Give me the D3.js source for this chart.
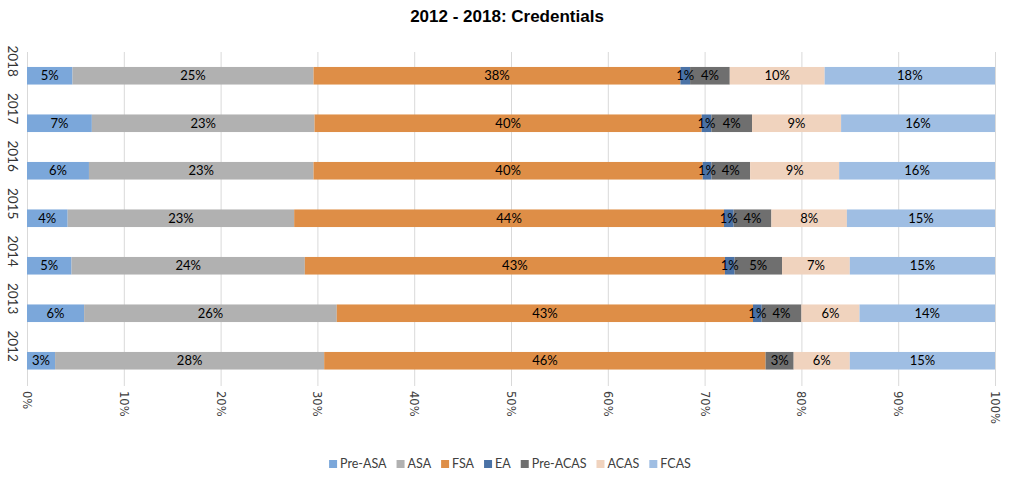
<!DOCTYPE html>
<html><head><meta charset="utf-8">
<script src="https://cdn.jsdelivr.net/npm/d3@7"></script>
<style>body{margin:0;background:#fff}svg{display:block}</style>
</head><body><svg id="c" width="1013" height="486"></svg>
<script>
const years = ["2018","2017","2016","2015","2014","2013","2012"];
const seriesNames = ["Pre-ASA","ASA","FSA","EA","Pre-ACAS","ACAS","FCAS"];
const preASA  = [4.7, 6.7, 6.4, 4.2, 4.6, 5.9, 2.9];
const asa     = [24.9,23.0,23.2,23.4,24.1,26.1,27.8];
const fsa     = [37.9,40.0,40.2,44.4,43.4,43.0,45.6];
const ea      = [1.0, 1.0, 0.9, 1.0, 1.0, 0.9, 0.0];
const preACAS = [4.1, 4.2, 4.0, 3.9, 4.9, 4.1, 2.9];
const acas    = [9.8, 9.2, 9.2, 7.8, 7.0, 6.0, 5.8];
const fcas    = [17.6,15.9,16.1,15.3,15.0,14.0,15.0];
const xTicks  = [0,10,20,30,40,50,60,70,80,90,100];
const colors  = ["#7BA7DA","#B1B1B1","#DE8E47","#4A72A6","#6F6F6F","#F0D3BE","#9FBEE3"];

const seriesVals = [preASA, asa, fsa, ea, preACAS, acas, fcas];
const rows = years.map((y,i)=>{const o={year:y}; seriesNames.forEach((s,k)=>o[s]=seriesVals[k][i]); return o;});
const stack = d3.stack().keys(seriesNames)(rows);

const svg = d3.select("#c");
const x = d3.scaleLinear().domain([0,100]).range([27,995]);
const y = d3.scaleBand().domain(years).range([52,384.5]).paddingInner(0.63).paddingOuter(0.315);

svg.append("text").attr("x",507).attr("y",22).attr("text-anchor","middle")
  .attr("font-family","Liberation Sans, Arial, sans-serif").attr("font-weight","bold")
  .attr("font-size",17).attr("fill","#000").text("2012 - 2018: Credentials");

// gridlines
svg.append("g").selectAll("line").data(xTicks).join("line")
  .attr("x1",d=>x(d)+0.5).attr("x2",d=>x(d)+0.5).attr("y1",52).attr("y2",386)
  .attr("stroke","#D9D9D9").attr("stroke-width",1);

// x tick labels rotated
svg.append("g").selectAll("text").data(xTicks).join("text")
  .attr("transform",d=>`translate(${x(d)-4},391) rotate(90)`)
  .attr("text-anchor","start").attr("font-family","DejaVu Sans, Verdana, sans-serif")
  .attr("font-size",11.5).attr("fill","#404040").text(d=>d+"%");

// y labels rotated
svg.append("g").selectAll("text").data(years).join("text")
  .attr("transform",d=>`translate(8,${y(d)+y.bandwidth()/2+1}) rotate(90)`)
  .attr("text-anchor","end").attr("font-family","Lato, sans-serif")
  .attr("font-size",13.5).attr("fill","#333").text(d=>d);

// bars
const g = svg.append("g");
stack.forEach((s,k)=>{
  g.selectAll(null).data(s).join("rect")
    .attr("x",d=>x(d[0])).attr("width",d=>x(d[1])-x(d[0]))
    .attr("y",d=>y(d.data.year)).attr("height",y.bandwidth())
    .attr("fill",colors[k]);
});
stack.forEach((s,k)=>{
  g.selectAll(null).data(s.filter(d=>d[1]-d[0]>0.05)).join("text")
    .attr("x",d=>x((d[0]+d[1])/2)).attr("y",d=>y(d.data.year)+y.bandwidth()/2+4.5)
    .attr("text-anchor","middle").attr("font-family","Lato, sans-serif")
    .attr("font-size",13).attr("fill","#000")
    .text(d=>Math.round(d[1]-d[0])+"%");
});

// legend
const lg = svg.append("g").attr("font-family","Lato, sans-serif").attr("font-size",12.5).attr("fill","#404040");
let pos = 0; const items=[];
seriesNames.forEach((s,k)=>{
  const it = lg.append("g");
  it.append("rect").attr("x",0).attr("y",-8).attr("width",8).attr("height",8).attr("fill",colors[k]);
  const t = it.append("text").attr("x",11).attr("y",0).text(s);
  const w = t.node().getComputedTextLength();
  items.push({it, x:pos}); pos += 11 + w + 10;
});
const total = pos - 10; const start = 510 - total/2;
items.forEach(o=>o.it.attr("transform",`translate(${start+o.x},468)`));
</script></body></html>
